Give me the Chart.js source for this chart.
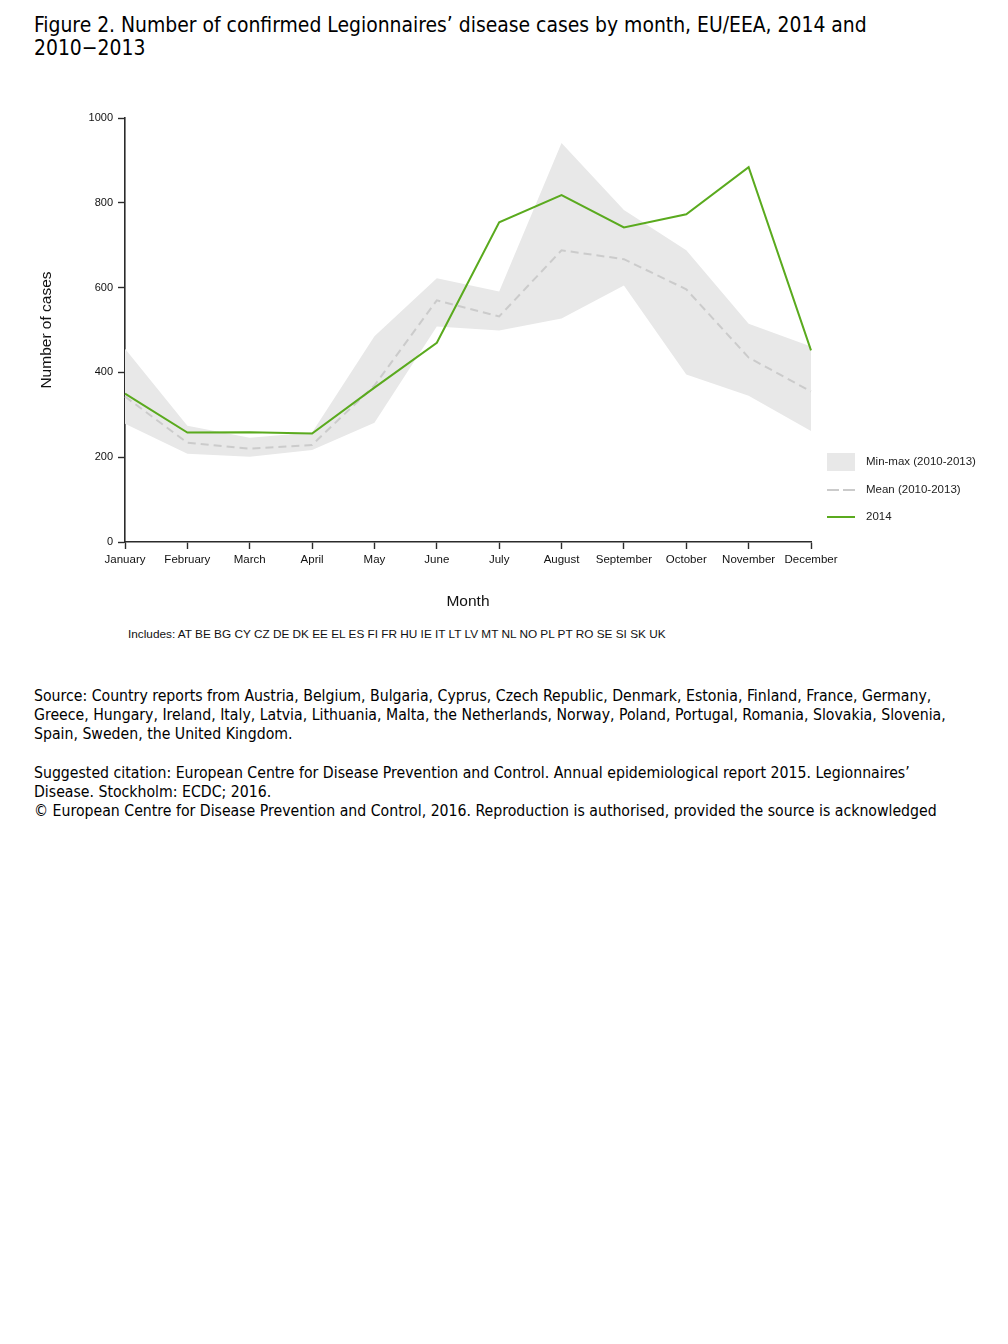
<!DOCTYPE html>
<html>
<head>
<meta charset="utf-8">
<script src="https://cdn.jsdelivr.net/npm/chart.js@4.4.1/dist/chart.umd.min.js"></script>
<style>
  body { margin: 0; background: #fff; width: 1008px; height: 1344px; position: relative; }
  .title { position: absolute; left: 34px; top: 14px; font-family: "DejaVu Sans Condensed", "DejaVu Sans", sans-serif; font-size: 20.9px; line-height: 23px; color: #000; }
  .incl { position: absolute; left: 128px; top: 627px; font-family: "Liberation Sans", Arial, sans-serif; font-size: 11.8px; color: #111; }
  .src { position: absolute; left: 34px; top: 686px; font-family: "DejaVu Sans Condensed", "DejaVu Sans", sans-serif; font-size: 15.7px; line-height: 19.2px; color: #000; }
  canvas { position: absolute; left: 0; top: 91px; }
</style>
</head>
<body>
<div class="title">Figure 2. Number of confirmed Legionnaires’ disease cases by month, EU/EEA, 2014 and<br>2010−2013</div>
<canvas id="chart" width="1008" height="531"></canvas>
<div class="incl">Includes: AT BE BG CY CZ DE DK EE EL ES FI FR HU IE IT LT LV MT NL NO PL PT RO SE SI SK UK</div>
<div class="src">Source: Country reports from Austria, Belgium, Bulgaria, Cyprus, Czech Republic, Denmark, Estonia, Finland, France, Germany,<br>Greece, Hungary, Ireland, Italy, Latvia, Lithuania, Malta, the Netherlands, Norway, Poland, Portugal, Romania, Slovakia, Slovenia,<br>Spain, Sweden, the United Kingdom.<br><br>Suggested citation: European Centre for Disease Prevention and Control. Annual epidemiological report 2015. Legionnaires’<br>Disease. Stockholm: ECDC; 2016.<br>© European Centre for Disease Prevention and Control, 2016. Reproduction is authorised, provided the source is acknowledged</div>
<script>
// monthly counts
var months = ["January", "February", "March", "April", "May", "June", "July", "August", "September", "October", "November", "December"];
var cases2014 = [350, 258, 259, 256, 364, 470, 754, 818, 742, 773, 884, 452];
var mean1013 = [343, 234, 220, 229, 369, 570, 532, 688, 667, 596, 435, 355];
var max1013 = [456, 274, 246, 258, 485, 622, 591, 941, 783, 688, 515, 461];
var min1013 = [279, 208, 201, 217, 281, 508, 499, 527, 605, 395, 345, 262];
var yTicks = [0, 200, 400, 600, 800, 1000];

var green = '#5aaa1e';
var band = '#e8e8e8';
var dash = '#cbcbcb';
var axisCol = '#2b2b2b';
var font = "'Liberation Sans', Arial, sans-serif";

// legend on the right, bottom aligned with the plot
var sideLegend = {
  id: 'sideLegend',
  afterDraw: function(chart) {
    var ctx = chart.ctx, a = chart.chartArea;
    var x = a.right + 16, tx = a.right + 55;
    var rows = [a.bottom - 80, a.bottom - 52, a.bottom - 25];
    ctx.save();
    ctx.fillStyle = band;
    ctx.fillRect(x, rows[0] - 9, 28, 18);
    ctx.strokeStyle = dash;
    ctx.lineWidth = 2;
    ctx.setLineDash([12, 4]);
    ctx.beginPath(); ctx.moveTo(x, rows[1]); ctx.lineTo(x + 28, rows[1]); ctx.stroke();
    ctx.setLineDash([]);
    ctx.strokeStyle = green;
    ctx.beginPath(); ctx.moveTo(x, rows[2]); ctx.lineTo(x + 28, rows[2]); ctx.stroke();
    ctx.fillStyle = '#222';
    ctx.font = '11.5px ' + font;
    ctx.textBaseline = 'middle';
    ctx.fillText('Min-max (2010-2013)', tx, rows[0]);
    ctx.fillText('Mean (2010-2013)', tx, rows[1]);
    ctx.fillText('2014', tx, rows[2]);
    ctx.restore();
  }
};

new Chart(document.getElementById('chart'), {
  type: 'line',
  data: {
    labels: months,
    datasets: [
      { label: '2014', data: cases2014, borderColor: green, borderWidth: 2, fill: false },
      { label: 'Mean (2010-2013)', data: mean1013, borderColor: dash, borderWidth: 2, borderDash: [8, 5], fill: false },
      { label: 'Max', data: max1013, borderWidth: 0, borderColor: 'rgba(0,0,0,0)', backgroundColor: band, fill: '+1' },
      { label: 'Min', data: min1013, borderWidth: 0, borderColor: 'rgba(0,0,0,0)', fill: false }
    ]
  },
  options: {
    responsive: false,
    animation: false,
    elements: { point: { radius: 0 }, line: { tension: 0 } },
    layout: { padding: { left: 0, top: 27, right: 197, bottom: 0 } },
    plugins: { legend: { display: false }, tooltip: { enabled: false } },
    scales: {
      x: {
        offset: false,
        afterFit: function(s) { s.height = 80; },
        grid: { drawOnChartArea: false, tickLength: 7, tickColor: axisCol, tickWidth: 1.4 },
        border: { color: axisCol, width: 1.6 },
        ticks: { color: '#111', font: { family: font, size: 11.5 }, maxRotation: 0, autoSkip: false, padding: 4 },
        title: { display: true, text: 'Month', color: '#111', font: { family: font, size: 15.5 }, padding: { top: 0, bottom: 11 } }
      },
      y: {
        min: 0, max: 1000,
        afterFit: function(s) { s.width = 125; },
        afterBuildTicks: function(s) { s.ticks = yTicks.map(function(v) { return { value: v }; }); },
        grid: { drawOnChartArea: false, tickLength: 7, tickColor: axisCol, tickWidth: 1.4 },
        border: { color: axisCol, width: 1.6 },
        ticks: { color: '#111', font: { family: font, size: 11 }, padding: 5, callback: function(v) { return String(v); } },
        title: { display: true, text: 'Number of cases', color: '#111', font: { family: font, size: 15.5 }, padding: { top: 37, bottom: 0 } }
      }
    }
  },
  plugins: [sideLegend]
});
</script>
</body>
</html>
